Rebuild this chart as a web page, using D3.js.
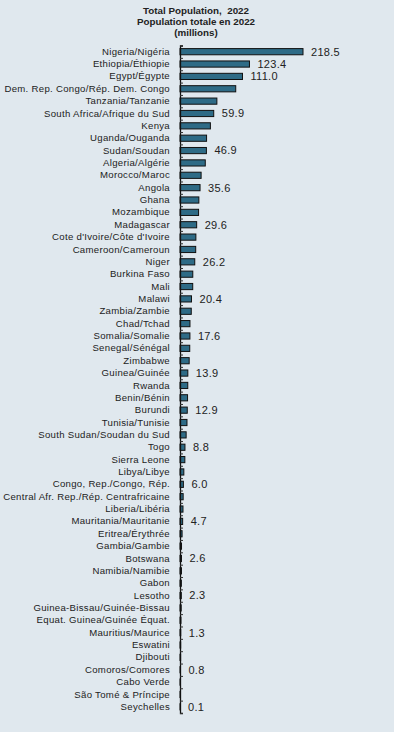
<html>
<head>
<script src="https://d3js.org/d3.v7.min.js"></script>
<style>
  body { margin: 0; background: #e0e8ee; }
  svg { display: block; font-family: "Liberation Sans", Arial, sans-serif; }
  .title { font-weight: bold; font-size: 9.8px; fill: #222; }
  .cat text { font-size: 9.6px; fill: #222; letter-spacing: 0.3px; }
  .val { font-size: 11px; fill: #222; letter-spacing: 0.3px; }
</style>
</head>
<body>
<svg width="394" height="732"></svg>
<script>
// countries, largest first
var countries = ["Nigeria/Nigéria", "Ethiopia/Éthiopie", "Egypt/Égypte", "Dem. Rep. Congo/Rép. Dem. Congo",
  "Tanzania/Tanzanie", "South Africa/Afrique du Sud", "Kenya", "Uganda/Ouganda", "Sudan/Soudan",
  "Algeria/Algérie", "Morocco/Maroc", "Angola", "Ghana", "Mozambique", "Madagascar",
  "Cote d'Ivoire/Côte d'Ivoire", "Cameroon/Cameroun", "Niger", "Burkina Faso", "Mali", "Malawi",
  "Zambia/Zambie", "Chad/Tchad", "Somalia/Somalie", "Senegal/Sénégal", "Zimbabwe", "Guinea/Guinée",
  "Rwanda", "Benin/Bénin", "Burundi", "Tunisia/Tunisie", "South Sudan/Soudan du Sud", "Togo",
  "Sierra Leone", "Libya/Libye", "Congo, Rep./Congo, Rép.", "Central Afr. Rep./Rép. Centrafricaine",
  "Liberia/Libéria", "Mauritania/Mauritanie", "Eritrea/Érythrée", "Gambia/Gambie", "Botswana",
  "Namibia/Namibie", "Gabon", "Lesotho", "Guinea-Bissau/Guinée-Bissau", "Equat. Guinea/Guinée Équat.",
  "Mauritius/Maurice", "Eswatini", "Djibouti", "Comoros/Comores", "Cabo Verde", "São Tomé & Príncipe",
  "Seychelles"];

// population 2022, millions
var population = [218.5, 123.4, 111.0, 99.0, 65.5, 59.9, 54.0, 47.2, 46.9, 44.9, 37.5, 35.6, 33.5, 33.0,
  29.6, 28.2, 27.9, 26.2, 22.7, 22.6, 20.4, 20.0, 17.7, 17.6, 17.3, 16.3, 13.9, 13.8, 13.4, 12.9, 12.4,
  10.9, 8.8, 8.6, 6.8, 6.0, 5.6, 5.3, 4.7, 3.7, 2.7, 2.6, 2.6, 2.4, 2.3, 2.1, 1.7, 1.3, 1.2, 1.1, 0.8,
  0.6, 0.2, 0.1];

// only some bars carry a value label
var labelled = ["Nigeria/Nigéria", "Ethiopia/Éthiopie", "Egypt/Égypte", "South Africa/Afrique du Sud",
  "Sudan/Soudan", "Angola", "Madagascar", "Niger", "Malawi", "Somalia/Somalie", "Guinea/Guinée",
  "Burundi", "Togo", "Congo, Rep./Congo, Rép.", "Mauritania/Mauritanie", "Botswana", "Lesotho",
  "Mauritius/Maurice", "Comoros/Comores", "Seychelles"];

var titleLines = ["Total Population,  2022", "Population totale en 2022", "(millions)"];

var data = d3.zip(countries, population);

var svg = d3.select("svg");
var left = 180, plotTop = 45.5, plotBottom = 713;

var x = d3.scaleLinear().domain([0, 218.5]).range([left, 303]);
var y = d3.scaleBand().domain(countries).range([plotTop, plotBottom]).paddingInner(0.5).paddingOuter(0.25);
var yIdx = d3.scaleLinear().domain([0, countries.length]).range([plotTop, plotBottom]);

svg.selectAll(".title").data(titleLines).enter().append("text")
  .attr("class", "title")
  .attr("x", 196).attr("y", function(d, i) { return 14 + i * 11; })
  .attr("text-anchor", "middle")
  .style("white-space", "pre")
  .text(function(d) { return d; });

svg.append("g").selectAll("rect").data(data).enter().append("rect")
  .attr("x", x(0))
  .attr("y", function(d) { return y(d[0]); })
  .attr("width", function(d) { return x(d[1]) - x(0); })
  .attr("height", y.bandwidth())
  .attr("fill", "#2e6b86")
  .attr("stroke", "#111")
  .attr("stroke-width", 1);

// category labels
svg.append("g").attr("class", "cat")
  .attr("transform", "translate(" + (left - 10) + ",0)")
  .call(d3.axisLeft(y).tickSize(0).tickPadding(0))
  .call(function(g) { g.select(".domain").remove(); });

// axis line with small ticks between the rows
svg.append("g")
  .attr("transform", "translate(" + left + ",0)")
  .call(d3.axisRight(yIdx).ticks(countries.length).tickSize(3).tickFormat("").tickSizeOuter(3))
  .call(function(g) {
    g.select(".domain").attr("stroke", "#111").attr("stroke-width", 1.3);
    g.selectAll(".tick line").attr("stroke", "#333");
  });

svg.append("g").selectAll("text").data(data.filter(function(d) { return labelled.indexOf(d[0]) >= 0; }))
  .enter().append("text")
  .attr("class", "val")
  .attr("x", function(d) { return x(d[1]) + 8; })
  .attr("y", function(d) { return y(d[0]) + y.bandwidth() / 2; })
  .attr("dy", "0.35em")
  .text(function(d) { return d[1].toFixed(1); });
</script>
</body>
</html>
